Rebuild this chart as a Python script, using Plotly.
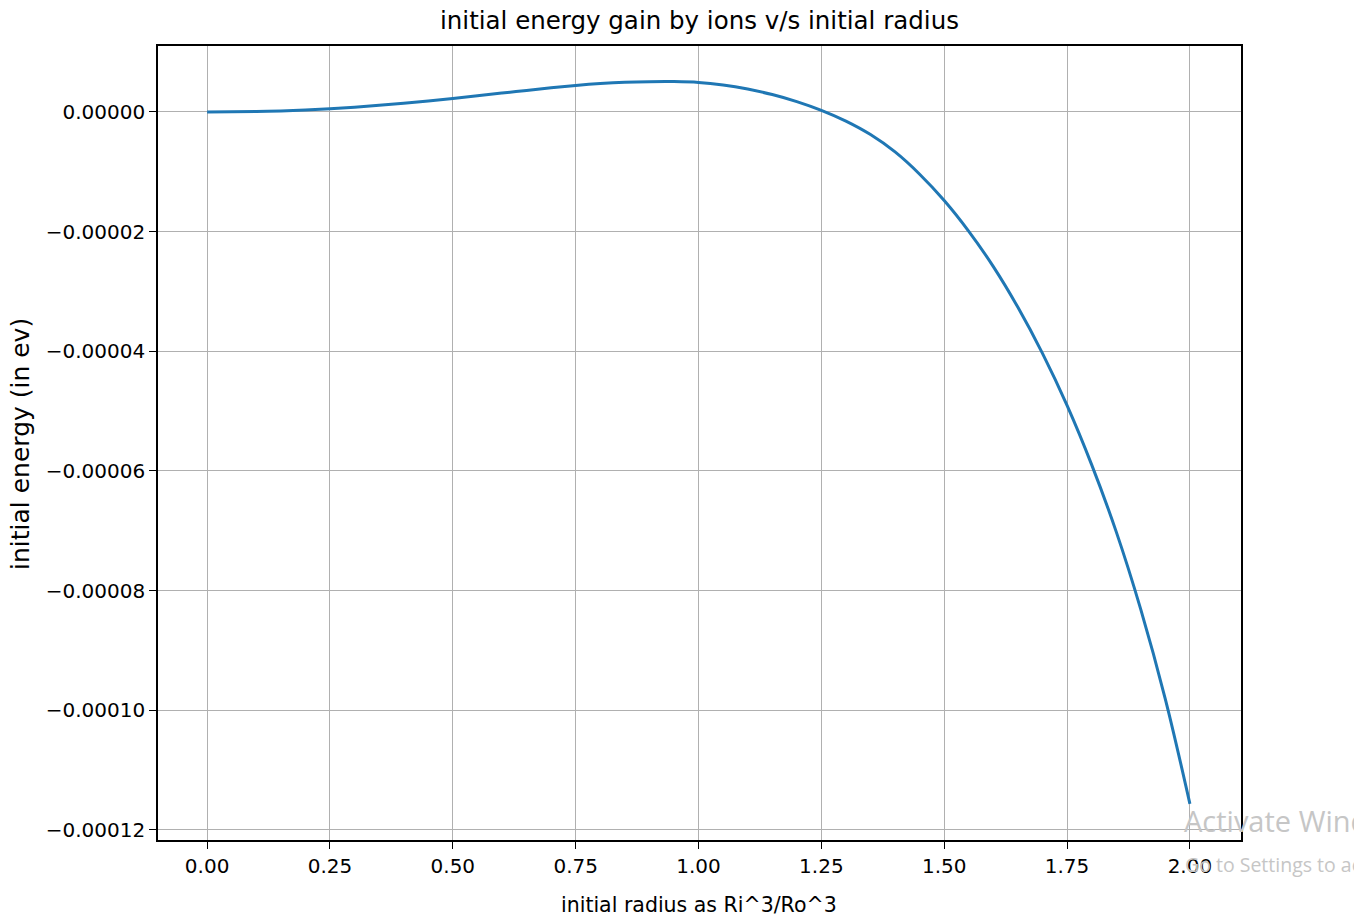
import plotly.graph_objects as go

# values
radius = [0.00, 0.05, 0.10, 0.15, 0.20, 0.25, 0.30, 0.35, 0.40, 0.45, 0.50, 0.55, 0.60, 0.65,
          0.70, 0.75, 0.80, 0.85, 0.90, 0.95, 1.00, 1.05, 1.10, 1.15, 1.20, 1.25, 1.30, 1.35,
          1.40, 1.45, 1.50, 1.55, 1.60, 1.65, 1.70, 1.75, 1.80, 1.85, 1.90, 1.95, 2.00]
energy_micro = [0.0, 0.02, 0.08, 0.18, 0.33, 0.54, 0.80, 1.11, 1.46, 1.85, 2.27, 2.71, 3.16,
                3.61, 4.04, 4.43, 4.75, 4.97, 5.07, 5.08, 4.94, 4.51, 3.83, 2.91, 1.73, 0.27,
                -1.53, -3.78, -6.68, -10.4, -14.8, -19.95, -25.85, -32.65, -40.35, -49.05,
                -58.95, -70.15, -83.15, -98.15, -115.65]
energy = [v * 1e-6 for v in energy_micro]

x_ticks = [0.0, 0.25, 0.5, 0.75, 1.0, 1.25, 1.5, 1.75, 2.0]
x_tick_text = ["0.00", "0.25", "0.50", "0.75", "1.00", "1.25", "1.50", "1.75", "2.00"]
y_ticks = [0.0, -0.00002, -0.00004, -0.00006, -0.00008, -0.00010, -0.00012]
y_tick_text = ["0.00000", "\u22120.00002", "\u22120.00004", "\u22120.00006",
               "\u22120.00008", "\u22120.00010", "\u22120.00012"]

title_text = "initial energy gain by ions v/s initial radius"
x_label = "initial radius as Ri^3/Ro^3"
y_label = "initial energy (in ev)"

FONT = "DejaVu Sans, sans-serif"

fig = go.Figure()
fig.add_trace(go.Scatter(x=radius, y=energy, mode="lines",
                         line=dict(color="#1f77b4", width=3, shape="spline", smoothing=1),
                         showlegend=False, hoverinfo="skip"))

axis_common = dict(showline=True, linecolor="black", linewidth=1.5, mirror=True,
                   ticks="outside", ticklen=7, tickwidth=1.2, tickcolor="black",
                   showgrid=True, gridcolor="#b0b0b0", gridwidth=1.3, zeroline=False,
                   tickfont=dict(family=FONT, size=20, color="black"))

fig.update_xaxes(range=[-0.1, 2.104], tickvals=x_ticks, ticktext=x_tick_text, **axis_common)
fig.update_yaxes(range=[-121.7e-6, 11.03e-6], tickvals=y_ticks, ticktext=y_tick_text,
                 **axis_common)

# the reference picture ends at x=1354 (white strip beyond it)
W, H = 1354, 919
L, T, B = 158, 46, 79
R = W - 1241
plot_w = W - L - R
plot_h = H - T - B


def px_x(px):
    return (px - L) / plot_w


def px_y(py):
    return (H - B - py) / plot_h


fig.update_layout(
    width=W, height=H,
    margin=dict(l=L, r=R, t=T, b=B),
    paper_bgcolor="white", plot_bgcolor="white",
    annotations=[
        dict(text=title_text, x=px_x(699), y=px_y(20), xref="paper", yref="paper",
             showarrow=False, yanchor="middle",
             font=dict(family=FONT, size=24.5, color="black")),
        dict(text=x_label, x=px_x(699), y=px_y(905), xref="paper", yref="paper",
             showarrow=False, yanchor="middle",
             font=dict(family=FONT, size=20.5, color="black")),
        dict(text=y_label, x=px_x(21), y=px_y(444), xref="paper", yref="paper",
             showarrow=False, textangle=-90, xanchor="center", yanchor="middle",
             font=dict(family=FONT, size=25, color="black")),
        dict(text="Activate Windows", x=px_x(1182), y=px_y(820), xref="paper",
             yref="paper", showarrow=False, xanchor="left", yanchor="middle",
             font=dict(family="Open Sans, sans-serif", size=29, color="#c6c6c6")),
        dict(text="Go to Settings to activate Windows.", x=px_x(1183), y=px_y(864),
             xref="paper", yref="paper", showarrow=False, xanchor="left",
             yanchor="middle",
             font=dict(family="Open Sans, sans-serif", size=19.5, color="#c6c6c6")),
    ],
)

fig.write_html("out.html")
